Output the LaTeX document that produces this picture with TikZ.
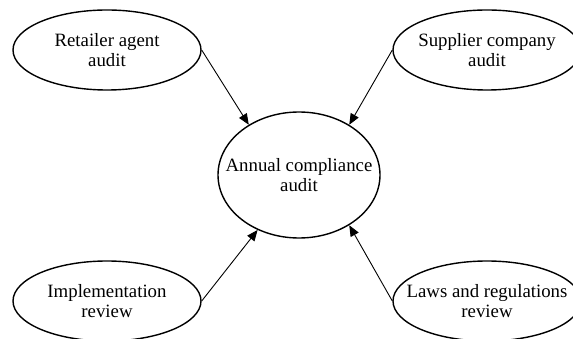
\documentclass[tikz,border=0pt]{standalone}
\usepackage{fontspec}
\setmainfont{Liberation Serif}
\usepackage{tikz}
\usetikzlibrary{
    arrows.meta,
    shapes.geometric,
    positioning
}
\tikzstyle{source} = [
    ellipse,
    draw=black,
    line width=1.4pt,
    inner xsep=-30pt,
    inner ysep=0pt,
    minimum width=188pt,
    minimum height=80pt,
    align=center,
    font=\fontsize{18.8}{20}\selectfont
]
\tikzstyle{target} = [
    source,
    minimum width=162pt,
    minimum height=126pt
]
\tikzstyle{arrow} = [
    -{Triangle[length=11pt,width=9pt]},
    line width=0.9pt,
    draw=black
]

\begin{document}
\begin{tikzpicture}[x=1pt, y=-1pt]
        \useasboundingbox (0,0) rectangle (573,339);

        % Central audit
        \node[target] (annual) at (299,175) {Annual compliance\\audit};

        % Feeding audits and reviews
        \node[source] (retailer) at (107,50) {Retailer agent\\audit};
        \node[source] (supplier) at (487,50) {Supplier company\\audit};
        \node[source] (impl) at (107,301) {Implementation\\review};
        \node[source] (laws) at (487,301) {Laws and regulations\\review};

        \draw[arrow] (retailer.east) -- (annual.135);
        \draw[arrow] (supplier.west) -- (annual.45);
        \draw[arrow] (impl.east) -- (annual.233);
        \draw[arrow] (laws.west) -- (annual.315);
    \end{tikzpicture}
\end{document}
